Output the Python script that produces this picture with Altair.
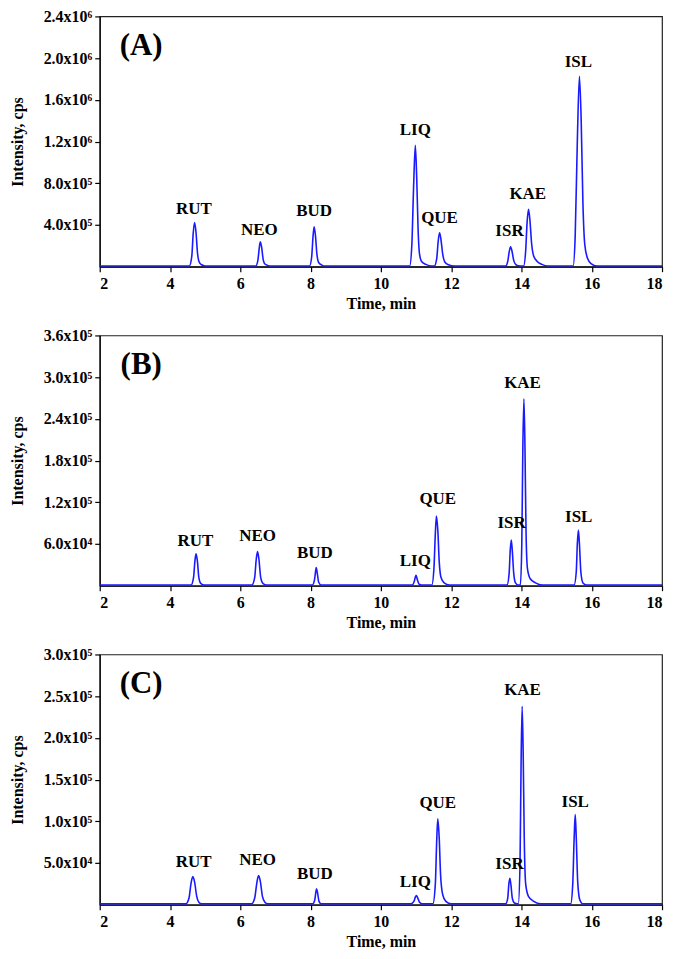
import altair as alt
import pandas as pd

# ---------------- Panel A trace (time in min, intensity in cps) ----------------
time_A = [2.00,
          4.55, 4.62, 4.66, 4.70, 4.74, 4.78, 4.83, 4.90, 5.00,
          6.44, 6.50, 6.54, 6.57, 6.61, 6.65, 6.70, 6.78, 6.88,
          7.97, 8.03, 8.07, 8.10, 8.14, 8.18, 8.23, 8.32, 8.42,
          10.82, 10.88, 10.93, 10.98, 11.02, 11.06, 11.10, 11.16, 11.28, 11.45,
          11.52, 11.59, 11.63, 11.67, 11.71, 11.76, 11.82, 11.92, 12.10,
          13.55, 13.61, 13.65, 13.69, 13.73, 13.78, 13.84, 13.92, 14.02,
          14.06, 14.12, 14.16, 14.20, 14.24, 14.29, 14.35, 14.45, 14.58, 14.75,
          15.47, 15.53, 15.59, 15.65, 15.70, 15.75, 15.80, 15.88, 15.98, 16.15,
          18.00]
int_A = [6e3,
         6e3, 1.0e5, 3.2e5, 4.24e5, 3.3e5, 1.4e5, 4.5e4, 1.8e4, 6e3,
         6e3, 6.0e4, 1.8e5, 2.39e5, 1.8e5, 7.0e4, 2.5e4, 1.2e4, 6e3,
         6e3, 9.0e4, 2.9e5, 3.82e5, 2.9e5, 1.2e5, 4.0e4, 1.5e4, 6e3,
         6e3, 2.0e5, 7.5e5, 1.164e6, 8.5e5, 3.5e5, 1.2e5, 5.0e4, 2.2e4, 6e3,
         6e3, 8.0e4, 2.4e5, 3.25e5, 2.6e5, 1.2e5, 4.5e4, 1.8e4, 6e3,
         6e3, 5.0e4, 1.4e5, 1.91e5, 1.5e5, 6.0e4, 2.0e4, 8e3, 6e3,
         6e3, 1.5e5, 4.2e5, 5.5e5, 4.5e5, 2.2e5, 1.0e5, 5.0e4, 2.2e4, 6e3,
         6e3, 3.0e5, 1.2e6, 1.826e6, 1.4e6, 6.0e5, 2.2e5, 8.0e4, 3.0e4, 6e3,
         6e3]

# ---------------- Panel B trace ----------------
time_B = [2.00,
          4.60, 4.67, 4.71, 4.74, 4.78, 4.82, 4.88, 4.98,
          6.33, 6.41, 6.45, 6.49, 6.53, 6.58, 6.65, 6.75,
          8.05, 8.11, 8.14, 8.16, 8.19, 8.23, 8.30,
          10.90, 10.95, 11.00, 11.04, 11.09, 11.16,
          11.45, 11.51, 11.55, 11.58, 11.62, 11.66, 11.71, 11.80, 11.95,
          13.59, 13.65, 13.68, 13.71, 13.74, 13.78, 13.83, 13.90,
          13.97, 14.01, 14.04, 14.07, 14.10, 14.13, 14.17, 14.25, 14.40, 14.60,
          15.50, 15.56, 15.59, 15.62, 15.65, 15.69, 15.75, 15.85,
          18.00]
int_B = [1e3,
         1e3, 1.2e4, 3.6e4, 4.57e4, 3.5e4, 1.2e4, 3e3, 1e3,
         1e3, 1.2e4, 3.6e4, 4.9e4, 3.8e4, 1.2e4, 3e3, 1e3,
         1e3, 8e3, 2.0e4, 2.6e4, 1.8e4, 5e3, 1e3,
         1e3, 6e3, 1.5e4, 8e3, 2e3, 1e3,
         1e3, 2.5e4, 7.5e4, 1.0e5, 8.0e4, 3.5e4, 1.2e4, 4e3, 1e3,
         1e3, 1.8e4, 5.0e4, 6.57e4, 5.0e4, 1.8e4, 4e3, 1e3,
         1e3, 6.0e4, 2.0e5, 2.69e5, 2.0e5, 8.0e4, 2.5e4, 1.0e4, 4e3, 1e3,
         1e3, 2.0e4, 6.0e4, 8.0e4, 6.0e4, 2.0e4, 4e3, 1e3,
         1e3]

# ---------------- Panel C trace ----------------
time_C = [2.00,
          4.45, 4.54, 4.60, 4.65, 4.70, 4.76, 4.82, 4.90,
          6.32, 6.41, 6.47, 6.52, 6.57, 6.63, 6.70, 6.78,
          8.06, 8.12, 8.15, 8.17, 8.20, 8.24, 8.30,
          10.85, 10.94, 10.98, 11.01, 11.05, 11.10, 11.18,
          11.48, 11.55, 11.59, 11.62, 11.66, 11.70, 11.76, 11.85, 12.00,
          13.55, 13.61, 13.64, 13.67, 13.70, 13.74, 13.80, 13.88,
          13.91, 13.96, 13.99, 14.02, 14.05, 14.08, 14.12, 14.20, 14.35, 14.55,
          15.40, 15.46, 15.50, 15.53, 15.56, 15.60, 15.66, 15.75,
          18.00]
int_C = [1e3,
         1e3, 8e3, 2.6e4, 3.37e4, 2.7e4, 1.0e4, 3e3, 1e3,
         1e3, 8e3, 2.6e4, 3.49e4, 2.8e4, 1.0e4, 3e3, 1e3,
         1e3, 6e3, 1.5e4, 1.9e4, 1.4e4, 4e3, 1e3,
         1e3, 4e3, 9e3, 1.1e4, 8e3, 3e3, 1e3,
         1e3, 2.5e4, 7.8e4, 1.03e5, 8.0e4, 3.5e4, 1.2e4, 4e3, 1e3,
         1e3, 8e3, 2.4e4, 3.17e4, 2.4e4, 8e3, 2e3, 1e3,
         1e3, 5.0e4, 1.7e5, 2.38e5, 1.8e5, 8.0e4, 2.5e4, 1.0e4, 4e3, 1e3,
         1e3, 2.5e4, 8.0e4, 1.08e5, 8.0e4, 2.8e4, 6e3, 1e3,
         1e3]

# ---------------- Peak labels ----------------
peak_names = ["RUT", "NEO", "BUD", "LIQ", "QUE", "ISR", "KAE", "ISL"]
label_t_A = [4.68, 6.54, 8.10, 10.98, 11.67, 13.66, 14.18, 15.62]
label_i_A = [5.55e5, 3.54e5, 5.35e5, 1.307e6, 4.69e5, 3.44e5, 7.0e5, 1.96e6]
label_t_B = [4.72, 6.49, 8.12, 10.98, 11.62, 13.72, 14.03, 15.63]
label_i_B = [6.47e4, 7.14e4, 4.76e4, 3.57e4, 1.24e5, 9.05e4, 2.92e5, 9.9e4]
label_t_C = [4.67, 6.49, 8.12, 10.98, 11.62, 13.66, 14.03, 15.53]
label_i_C = [5.08e4, 5.4e4, 3.69e4, 2.7e4, 1.22e5, 4.88e4, 2.57e5, 1.23e5]

# ---------------- Panel letters and axes ----------------
panel_letters = ["(A)", "(B)", "(C)"]
letter_t = [3.18, 3.18, 3.18]
letter_i = [2.12e6, 3.18e5, 2.65e5]
y_max = [2.4e6, 3.6e5, 3.0e5]
y_ticks_A = [4e5, 8e5, 1.2e6, 1.6e6, 2.0e6, 2.4e6]
y_ticks_B = [6e4, 1.2e5, 1.8e5, 2.4e5, 3.0e5, 3.6e5]
y_ticks_C = [5e4, 1.0e5, 1.5e5, 2.0e5, 2.5e5, 3.0e5]
x_ticks = list(range(2, 19))

FONT = "Liberation Serif"
LINE_COLOR = "#1a1aff"

y_label_expr = ("datum.value >= 1e6 ? format(datum.value/1e6, '.1f') + 'x10\u2076' : "
                "datum.value >= 1e5 ? format(datum.value/1e5, '.1f') + 'x10\u2075' : "
                "format(datum.value/1e4, '.1f') + 'x10\u2074'")


def make_panel(times, ints, lt, li, letter, lx, ly, ymax, yticks):
    trace = pd.DataFrame({"t": times, "i": ints})
    labels = pd.DataFrame({"t": lt, "i": li, "name": peak_names})
    letter_df = pd.DataFrame({"t": [lx], "i": [ly], "name": [letter]})

    xs = alt.Scale(domain=[2, 18], nice=False, zero=False)
    ys = alt.Scale(domain=[0, ymax], nice=False)

    line = alt.Chart(trace).mark_line(
        color=LINE_COLOR, strokeWidth=1.6, interpolate="monotone", clip=True
    ).encode(
        x=alt.X("t:Q", scale=xs, title="Time, min",
                axis=alt.Axis(values=x_ticks,
                              labelExpr="datum.value % 2 == 0 ? datum.value : ''",
                              grid=False, tickSize=5, labelPadding=4,
                              titlePadding=4)),
        y=alt.Y("i:Q", scale=ys, title="Intensity, cps",
                axis=alt.Axis(values=yticks, labelExpr=y_label_expr,
                              grid=False, tickSize=5, labelPadding=3,
                              titlePadding=18)),
    )
    txt = alt.Chart(labels).mark_text(
        font=FONT, fontWeight="bold", fontSize=17, color="black",
        align="center", baseline="middle"
    ).encode(x="t:Q", y="i:Q", text="name:N")
    let = alt.Chart(letter_df).mark_text(
        font=FONT, fontWeight="bold", fontSize=31, color="black",
        align="center", baseline="middle"
    ).encode(x="t:Q", y="i:Q", text="name:N")
    return alt.layer(line, txt, let).properties(width=564, height=251)


pA = make_panel(time_A, int_A, label_t_A, label_i_A, panel_letters[0],
                letter_t[0], letter_i[0], y_max[0], y_ticks_A)
pB = make_panel(time_B, int_B, label_t_B, label_i_B, panel_letters[1],
                letter_t[1], letter_i[1], y_max[1], y_ticks_B)
pC = make_panel(time_C, int_C, label_t_C, label_i_C, panel_letters[2],
                letter_t[2], letter_i[2], y_max[2], y_ticks_C)

chart = alt.vconcat(pA, pB, pC, spacing=14).properties(
    padding={"left": 0, "top": -2, "right": 4, "bottom": 0}
).configure_axis(
    labelFont=FONT, labelFontWeight="bold", labelFontSize=16, labelColor="black",
    titleFont=FONT, titleFontWeight="bold", titleFontSize=16, titleColor="black",
    domainColor="black", tickColor="black", domainWidth=1.2, tickWidth=1.2
).configure_view(
    stroke="#222222", strokeWidth=1.2
)

chart.save("out.html", embed_options={"renderer": "svg", "actions": False})
